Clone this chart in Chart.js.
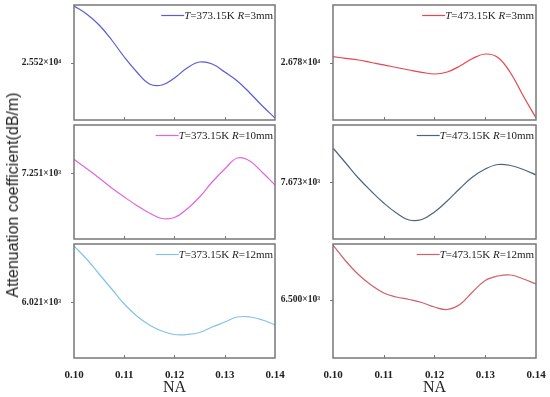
<!DOCTYPE html>
<html>
<head>
<meta charset="utf-8">
<script src="https://cdn.jsdelivr.net/npm/chart.js@4.4.1/dist/chart.umd.min.js"></script>
<style>
  html, body { margin: 0; padding: 0; background: #fff; }
  #wrap { position: relative; width: 550px; height: 397px; overflow: hidden; }
  .cv { position: absolute; }
  #ytitle {
    position: absolute; left: 13px; top: 195px;
    transform: translate(-50%, -50%) rotate(-90deg);
    white-space: nowrap; font: 16px "Liberation Sans", Arial, sans-serif; color: #222;
  }
</style>
</head>
<body>
<div id="wrap">
  <canvas id="c1" class="cv"></canvas>
  <canvas id="c2" class="cv"></canvas>
  <canvas id="c3" class="cv"></canvas>
  <canvas id="c4" class="cv"></canvas>
  <canvas id="c5" class="cv"></canvas>
  <canvas id="c6" class="cv"></canvas>
  <div id="ytitle">Attenuation coefficient(dB/m)</div>
</div>
<script>
// NA grid (x values)
const naValues = [0.1, 0.1025, 0.105, 0.1075, 0.11, 0.1125, 0.115, 0.1175, 0.12,
                  0.1225, 0.125, 0.1275, 0.13, 0.1325, 0.135, 0.1375, 0.14];
const naTicks = [0.10, 0.11, 0.12, 0.13, 0.14];

// T=373.15K series
const t373r3 = [28345, 27945, 27395, 26645, 25795, 25045, 24445, 24395, 24745,
                25245, 25545, 25445, 25045, 24595, 23995, 23345, 22745];
const t373r10 = [7391, 7299, 7204, 7104, 7014, 6929, 6854, 6799, 6809,
                 6894, 7014, 7164, 7294, 7404, 7374, 7259, 7134];
const t373r12 = [6584, 6454, 6304, 6154, 6004, 5884, 5794, 5734, 5699,
                 5699, 5719, 5774, 5824, 5874, 5874, 5844, 5794];

// T=473.15K series
const t473r3 = [27070, 26990, 26905, 26780, 26665, 26530, 26405, 26290, 26205,
                26305, 26605, 26980, 27205, 27030, 26255, 25105, 24005];
const t473r10 = [8016, 7866, 7716, 7586, 7466, 7366, 7296, 7301, 7376,
                 7486, 7611, 7726, 7806, 7851, 7841, 7801, 7746];
const t473r12 = [7050, 6890, 6755, 6650, 6570, 6530, 6505, 6475, 6430,
                 6405, 6455, 6580, 6695, 6740, 6750, 6710, 6660];

// single labelled y tick per panel, and axis limits
const yTickVals = [25520, 26780, 7251, 7673, 6021, 6500];
const yTickText = ['2.552×10⁴', '2.678×10⁴', '7.251×10³', '7.673×10³', '6.021×10³', '6.500×10³'];
const yMins = [22645, 23905, 6594, 7106, 5464, 5920];
const yMaxs = [28395, 29655, 7734, 8246, 6604, 7060];

const legendT = ['373.15K', '473.15K', '373.15K', '473.15K', '373.15K', '473.15K'];
const legendR = ['3mm', '3mm', '10mm', '10mm', '12mm', '12mm'];
const colors = ['#5b5bd6', '#e8454f', '#e066e0', '#4d6680', '#82c4e8', '#d0606c'];
const seriesList = [t373r3, t473r3, t373r10, t473r10, t373r12, t473r12];

const SERIF = '"Liberation Serif", "Times New Roman", serif';

// frame, inward x ticks and the legend
const panelDeco = {
  id: 'panelDeco',
  afterDraw(chart, args, opts) {
    const { ctx, chartArea: a, scales } = chart;
    ctx.save();
    ctx.strokeStyle = '#777';
    ctx.lineWidth = 1.5;
    ctx.strokeRect(a.left, a.top, a.right - a.left, a.bottom - a.top);
    ctx.lineWidth = 1;
    ctx.beginPath();
    naTicks.slice(1, -1).forEach(v => {
      const px = Math.round(scales.x.getPixelForValue(v)) + 0.5;
      ctx.moveTo(px, a.bottom);
      ctx.lineTo(px, a.bottom - 3);
    });
    const py = Math.round(scales.y.getPixelForValue(opts.tick)) + 0.5;
    ctx.moveTo(a.left, py);
    ctx.lineTo(a.left - 3, py);
    ctx.stroke();

    // legend: line + "T=... R=..." with italic T and R
    const parts = [
      ['italic', 'T'], ['normal', '=' + opts.t + ' '], ['italic', 'R'], ['normal', '=' + opts.r]
    ];
    let w = 0;
    parts.forEach(p => { ctx.font = p[0] + ' 11px ' + SERIF; w += ctx.measureText(p[1]).width; });
    let x = a.right - 2 - w;
    const y = Math.round(a.top + 10) + 0.5;
    ctx.strokeStyle = opts.lineColor;
    ctx.lineWidth = 1.2;
    ctx.beginPath();
    ctx.moveTo(x - 23, y);
    ctx.lineTo(x, y);
    ctx.stroke();
    ctx.fillStyle = '#222';
    ctx.textBaseline = 'middle';
    parts.forEach(p => {
      ctx.font = p[0] + ' 11px ' + SERIF;
      ctx.fillText(p[1], x, y + 1);
      x += ctx.measureText(p[1]).width;
    });
    ctx.restore();
  }
};

function makePanel(idx, canvasId, box, yAxisW, padTop, padRight, xAxisH, bottomRow) {
  const el = document.getElementById(canvasId);
  el.style.left = box.left + 'px';
  el.style.top = box.top + 'px';
  el.width = box.width;
  el.height = box.height;
  el.style.width = box.width + 'px';
  el.style.height = box.height + 'px';

  return new Chart(el, {
    type: 'line',
    data: {
      datasets: [{
        data: naValues.map((v, i) => ({ x: v, y: seriesList[idx][i] })),
        borderColor: colors[idx],
        borderWidth: 1.2,
        pointRadius: 0,
        tension: 0.4,
        fill: false
      }]
    },
    options: {
      responsive: false,
      animation: false,
      layout: { padding: { top: padTop, right: padRight, left: 0, bottom: 0 } },
      scales: {
        x: {
          type: 'linear', min: 0.10, max: 0.14,
          afterBuildTicks: s => { s.ticks = naTicks.map(v => ({ value: v })); },
          afterFit: s => { s.height = xAxisH; s.paddingLeft = 0; s.paddingRight = 0; },
          grid: { display: false },
          border: { display: false },
          ticks: {
            display: bottomRow,
            padding: 3,
            color: '#222',
            font: { family: SERIF, size: 11, weight: 'bold' },
            callback: v => v.toFixed(2)
          },
          title: {
            display: bottomRow, text: 'NA', color: '#222',
            font: { family: SERIF, size: 16 }, padding: { top: 1, bottom: 0 }
          }
        },
        y: {
          min: yMins[idx], max: yMaxs[idx],
          afterBuildTicks: s => { s.ticks = [{ value: yTickVals[idx] }]; },
          afterFit: s => { s.width = yAxisW; s.paddingTop = 0; s.paddingBottom = 0; },
          grid: { display: false },
          border: { display: false },
          ticks: {
            padding: 5,
            color: '#222',
            font: { family: SERIF, size: 9.5, weight: 'bold' },
            callback: () => yTickText[idx]
          }
        }
      },
      plugins: {
        legend: { display: false },
        tooltip: { enabled: false },
        panelDeco: { tick: yTickVals[idx], t: legendT[idx], r: legendR[idx], lineColor: colors[idx] }
      }
    },
    plugins: [panelDeco]
  });
}

// left column: plot x 74..275, right column: plot x 333..536 (canvases overlap, transparent)
makePanel(0, 'c1', { left: 0, top: 0, width: 300, height: 122 }, 74, 5, 25, 2, false);
makePanel(1, 'c2', { left: 263, top: 0, width: 287, height: 122 }, 70, 5, 14, 2, false);
makePanel(2, 'c3', { left: 0, top: 122, width: 300, height: 119 }, 74, 3, 25, 2, false);
makePanel(3, 'c4', { left: 263, top: 122, width: 287, height: 119 }, 70, 3, 14, 2, false);
makePanel(4, 'c5', { left: 0, top: 241, width: 300, height: 156 }, 74, 3, 25, 39, true);
makePanel(5, 'c6', { left: 263, top: 241, width: 287, height: 156 }, 70, 3, 14, 39, true);
</script>
</body>
</html>
